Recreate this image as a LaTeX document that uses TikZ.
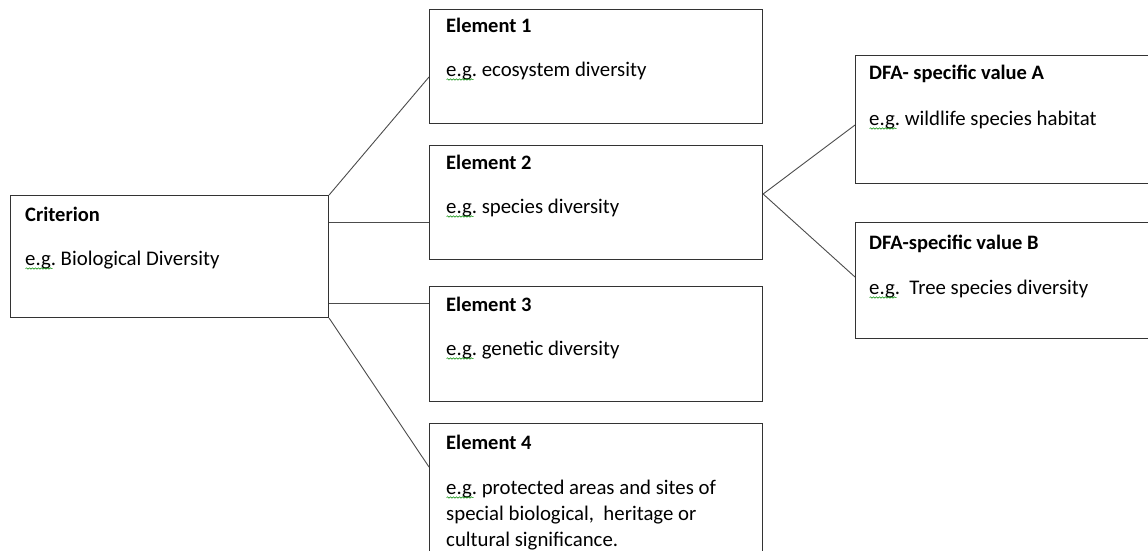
\documentclass[tikz,border=0pt]{standalone}
\usepackage{fontspec}
\setmainfont{Carlito}
\frenchspacing
\usetikzlibrary{decorations.pathmorphing}
\tikzset{
  box/.style={draw=black!80, line width=1.1pt, rectangle, inner sep=0pt, anchor=north west},
  conn/.style={draw=black!70, line width=0.9pt},
  ttl/.style={anchor=base west, inner sep=0pt, font=\bfseries\fontsize{20.5}{24}\selectfont},
  txt/.style={anchor=base west, inner sep=0pt, align=left, font=\fontsize{20.8}{26}\selectfont},
  squig/.style={draw=green!55!black, line width=0.5pt, decorate,
    decoration={snake, amplitude=0.7pt, segment length=3pt}}
}
\begin{document}
\begin{tikzpicture}[x=1pt,y=-1pt]
\useasboundingbox (0,0) rectangle (1148,551);
\clip (0,0) rectangle (1148,551);
\fill[white] (0,0) rectangle (1148,551);

% boxes
\node[box, minimum width=318pt, minimum height=122pt] (crit) at (10,195) {};
\node[box, minimum width=333pt, minimum height=114pt] (el1) at (429,9) {};
\node[box, minimum width=333pt, minimum height=114pt] (el2) at (429,145) {};
\node[box, minimum width=333pt, minimum height=115pt] (el3) at (429,286) {};
\node[box, minimum width=333pt, minimum height=160pt] (el4) at (429,423) {};
\node[box, minimum width=310pt, minimum height=128pt] (dfa) at (855,55) {};
\node[box, minimum width=310pt, minimum height=116pt] (dfb) at (855,222) {};

% connectors
\coordinate (c2) at (328,222);
\coordinate (c3) at (328,303);
\coordinate (e2r) at (762,194);
\coordinate (p1) at (0,77);
\coordinate (p4) at (0,467);
\coordinate (pa) at (0,125);
\coordinate (pb) at (0,277);
\draw[conn] (crit.north east) -- (el1.west |- p1);
\draw[conn] (crit.east |- c2) -- (el2.west |- c2);
\draw[conn] (crit.east |- c3) -- (el3.west |- c3);
\draw[conn] (crit.south east) -- (el4.west |- p4);
\draw[conn] (el2.east |- e2r) -- (dfa.west |- pa);
\draw[conn] (el2.east |- e2r) -- (dfb.west |- pb);

% texts
\node[ttl] (t0) at (25,221) {Criterion};
\node[txt] (g0) at (25,265) {e.g. Biological Diversity};
\node[ttl] (t1) at (446,33) {Element 1};
\node[txt] (g1) at (446,76) {e.g. ecosystem diversity};
\node[ttl] (t2) at (446,169) {Element 2};
\node[txt] (g2) at (446,213) {e.g. species diversity};
\node[ttl] (t3) at (446,311) {Element 3};
\node[txt] (g3) at (446,355) {e.g. genetic diversity};
\node[ttl] (t4) at (446,449) {Element 4};
\node[txt] (g4) at (446,546) {e.g. protected areas and sites of\\special biological,\ \ heritage or\\cultural significance.};
\node[ttl] (ta) at (869,80) {DFA- specific value A};
\node[txt] (ga) at (869,125) {e.g. wildlife species habitat};
\node[ttl] (tb) at (869,249) {DFA-specific value B};
\node[txt] (gb) at (869,294) {e.g.\ \ Tree species diversity};

% spell-check squiggles
\foreach \n in {g0,g1,g2,g3,ga,gb}
  \draw[squig] ([xshift=0.5pt,yshift=-3.5pt]\n.base west) -- ++(27,0);
\coordinate (q4) at (0,497.5);
\draw[squig] ([xshift=0.5pt]g4.west |- q4) -- ++(27,0);
\end{tikzpicture}
\end{document}
